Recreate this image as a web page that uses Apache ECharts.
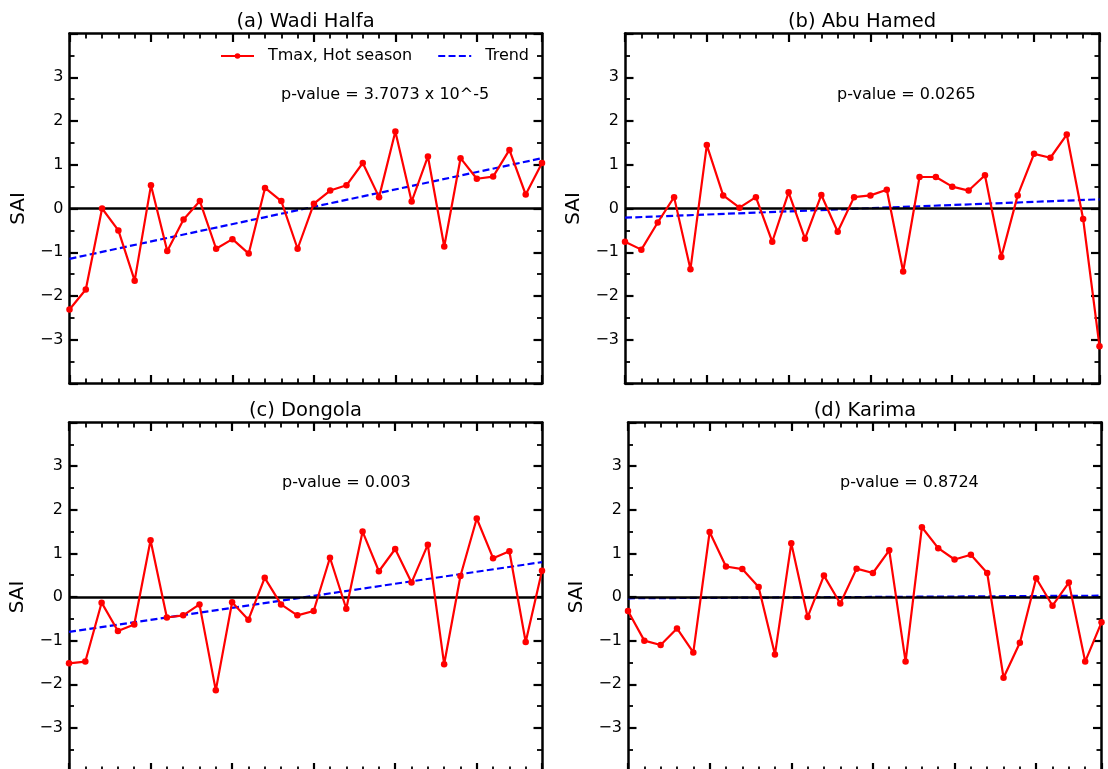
<!DOCTYPE html>
<html><head><meta charset="utf-8">
<script src="https://cdn.jsdelivr.net/npm/echarts@6/dist/echarts.min.js"></script>
<style>html,body{margin:0;padding:0;background:#fff}#c{width:1108px;height:769px}</style>
</head><body><div id="c"></div>
<script>
// ---------- data ----------
const panelTitles = ['(a) Wadi Halfa', '(b) Abu Hamed', '(c) Dongola', '(d) Karima'];
const pValueTexts = ['p-value = 3.7073 x 10^-5', 'p-value = 0.0265', 'p-value = 0.003', 'p-value = 0.8724'];
const seriesNames = ['Tmax, Hot season', 'Trend'];
const yTickValues = [-3, -2, -1, 0, 1, 2, 3];
const yTickLabels = ['\u22123', '\u22122', '\u22121', '0', '1', '2', '3'];
const yAxisTitle = 'SAI';

const saiWadiHalfa = [-2.31, -1.85, 0.0, -0.50, -1.65, 0.53, -0.97, -0.25, 0.17, -0.92,
  -0.70, -1.03, 0.47, 0.17, -0.92, 0.11, 0.41, 0.53, 1.04, 0.26,
  1.76, 0.16, 1.19, -0.87, 1.15, 0.68, 0.73, 1.34, 0.32, 1.04];
const saiAbuHamed = [-0.76, -0.94, -0.32, 0.26, -1.39, 1.45, 0.30, 0.02, 0.26, -0.76,
  0.37, -0.69, 0.31, -0.53, 0.26, 0.30, 0.43, -1.44, 0.72, 0.72,
  0.50, 0.41, 0.76, -1.11, 0.30, 1.25, 1.16, 1.69, -0.24, -3.15];
const saiDongola = [-1.52, -1.48, -0.13, -0.78, -0.63, 1.30, -0.47, -0.42, -0.17, -2.14,
  -0.12, -0.52, 0.44, -0.17, -0.42, -0.32, 0.90, -0.27, 1.50, 0.59,
  1.10, 0.33, 1.20, -1.54, 0.48, 1.80, 0.89, 1.05, -1.03, 0.60];
const saiKarima = [-0.32, -1.00, -1.10, -0.72, -1.27, 1.49, 0.70, 0.64, 0.23, -1.32,
  1.23, -0.46, 0.49, -0.15, 0.65, 0.55, 1.07, -1.48, 1.60, 1.12,
  0.86, 0.97, 0.55, -1.85, -1.05, 0.43, -0.20, 0.33, -1.48, -0.58];

// trend line [value at first year, value at last year]
const trendWadiHalfa = [-1.15, 1.15];
const trendAbuHamed = [-0.21, 0.21];
const trendDongola = [-0.80, 0.80];
const trendKarima = [-0.03, 0.03];

const panelValues = [saiWadiHalfa, saiAbuHamed, saiDongola, saiKarima];
const panelTrends = [trendWadiHalfa, trendAbuHamed, trendDongola, trendKarima];

// ---------- layout / style ----------
const FONT = 'DejaVu Sans';
const grids = [
  { left: 69.5, top: 33.5, width: 472.5, height: 350 },
  { left: 625, top: 33.5, width: 474.5, height: 350 },
  { left: 69, top: 422.5, width: 473, height: 349 },
  { left: 628, top: 422.5, width: 473.5, height: 349 }
];
const titlePos = [[305.5, 21.5], [862, 21.5], [305.5, 410.5], [865, 410.5]];
const pPos = [[281, 95], [837, 94.5], [282, 483], [840, 483]];

const black = '#000';
const xAxes = [], yAxes = [], series = [], graphics = [];

function xAxisDef(p, pos, interval, len, width, line) {
  return {
    gridIndex: p, type: 'value', min: 0, max: panelValues[p].length - 1, interval: interval,
    position: pos,
    axisLine: { show: line, onZero: false, lineStyle: { color: black, width: 2.5 } },
    axisTick: { show: true, inside: true, length: len, lineStyle: { color: black, width: width } },
    axisLabel: { show: false }, splitLine: { show: false }
  };
}
function yAxisDef(p, pos, labels) {
  return {
    gridIndex: p, type: 'value', min: -4, max: 4, interval: 1, position: pos,
    axisLine: { show: true, onZero: false, lineStyle: { color: black, width: 2.5 } },
    axisTick: { show: true, inside: true, length: 8.5, lineStyle: { color: black, width: 2.2 } },
    minorTick: { show: true, splitNumber: 2, length: 5, lineStyle: { color: black, width: 1.8 } },
    axisLabel: {
      show: labels, margin: 6, fontSize: 16, color: black, fontFamily: FONT,
      formatter: function (v) { const i = yTickValues.indexOf(v); return i >= 0 ? yTickLabels[i] : ''; }
    },
    splitLine: { show: false }, minorSplitLine: { show: false },
    name: labels ? yAxisTitle : '', nameLocation: 'middle', nameRotate: 90, nameGap: 41,
    nameTextStyle: { fontSize: 20, color: black, fontFamily: FONT }
  };
}

for (let p = 0; p < 4; p++) {
  xAxes.push(xAxisDef(p, 'bottom', 1, 5, 1.8, true));
  xAxes.push(xAxisDef(p, 'bottom', 5, 8.5, 2.2, false));
  xAxes.push(xAxisDef(p, 'top', 1, 5, 1.8, true));
  xAxes.push(xAxisDef(p, 'top', 5, 8.5, 2.2, false));
  yAxes.push(yAxisDef(p, 'left', true));
  yAxes.push(yAxisDef(p, 'right', false));

  const vals = panelValues[p];
  const tr = panelTrends[p];
  series.push({
    type: 'line', name: seriesNames[1], xAxisIndex: 4 * p, yAxisIndex: 2 * p,
    data: [[0, tr[0]], [vals.length - 1, tr[1]]],
    symbol: 'none', showSymbol: false, z: 4,
    lineStyle: { color: '#0000ff', width: 2.2, type: [7, 3.3] },
    itemStyle: { color: '#0000ff' },
    markLine: {
      silent: true, symbol: ['none', 'none'], label: { show: false },
      lineStyle: { color: black, width: 2.5, type: 'solid' },
      data: [{ yAxis: 0 }], animation: false
    }
  });
  series.push({
    type: 'line', name: seriesNames[0], xAxisIndex: 4 * p, yAxisIndex: 2 * p,
    data: vals.map((v, i) => [i, v]),
    symbol: 'circle', symbolSize: 6.5, showSymbol: true, z: 5,
    lineStyle: { color: '#ff0000', width: 2.2 },
    itemStyle: { color: '#ff0000' }
  });

  graphics.push({
    type: 'text', x: titlePos[p][0], y: titlePos[p][1],
    style: { text: panelTitles[p], fontSize: 19.5, fontFamily: FONT, fill: black, textAlign: 'center', textVerticalAlign: 'middle' }
  });
  graphics.push({
    type: 'text', x: pPos[p][0], y: pPos[p][1],
    style: { text: pValueTexts[p], fontSize: 16, fontFamily: FONT, fill: black, textAlign: 'left', textVerticalAlign: 'middle' }
  });
}

const chart = echarts.init(document.getElementById('c'), null, { renderer: 'canvas' });
chart.setOption({
  animation: false,
  backgroundColor: '#fff',
  textStyle: { fontFamily: FONT },
  grid: grids.map(g => Object.assign({ containLabel: false, outerBoundsMode: 'none' }, g)),
  xAxis: xAxes,
  yAxis: yAxes,
  legend: {
    left: 220, top: 48, padding: 0, itemWidth: 33, itemHeight: 7, itemGap: 25, selectedMode: false,
    data: [
      { name: seriesNames[0] },
      { name: seriesNames[1], itemStyle: { color: 'rgba(0,0,0,0)', borderColor: 'rgba(0,0,0,0)', borderWidth: 0, opacity: 0 } }
    ],
    textStyle: { fontSize: 16, color: black, fontFamily: FONT, padding: [0, 0, 0, 9] }
  },
  series: series,
  graphic: graphics
});
</script>
</body></html>
